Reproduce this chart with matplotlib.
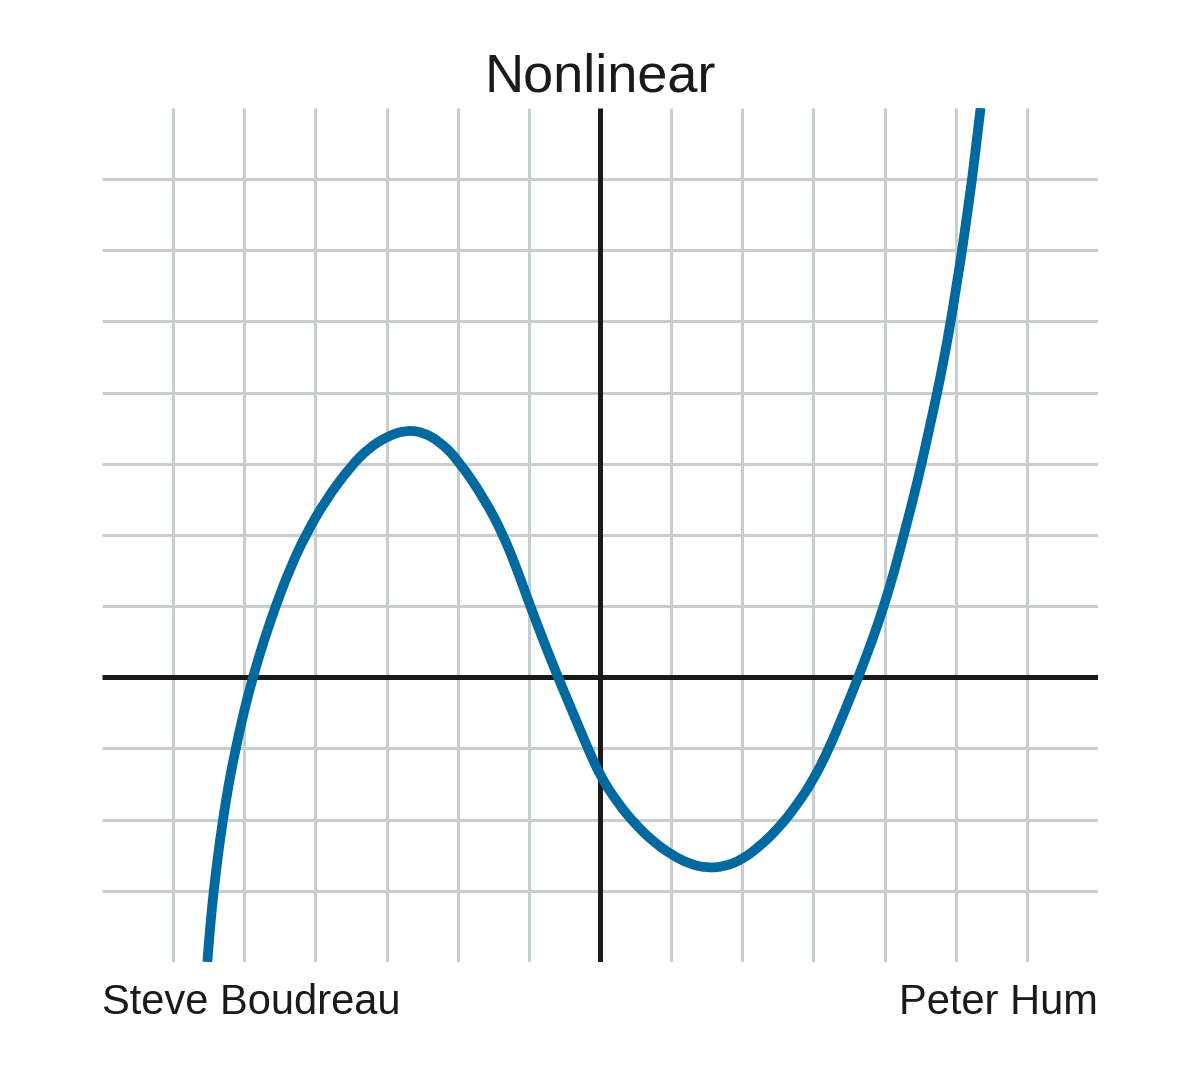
import matplotlib
matplotlib.use('Agg')
import matplotlib.pyplot as plt
from matplotlib.path import Path
from matplotlib.patches import PathPatch

# curve points (grid units), left to right along the curve
curve_x = [-5.52, -5.48, -5.43, -5.37, -5.30, -5.22, -5.12, -5.01, -4.88, -4.73,
           -4.56, -4.37, -4.14, -3.85, -3.50, -3.25, -3.00, -2.75, -2.50, -2.25,
           -2.00, -1.62, -1.36, -1.16, -0.98, -0.79, -0.59, -0.38, -0.17, 0.00,
           0.25, 0.50, 0.75, 1.00, 1.25, 1.50, 1.75, 2.00, 2.25, 2.50,
           2.75, 3.00, 3.22, 3.43, 3.63, 3.82, 3.99, 4.14, 4.27, 4.40,
           4.52, 4.63, 4.74, 4.84, 4.93, 5.01, 5.09, 5.16, 5.23, 5.29, 5.35]
curve_y = [-4.0, -3.5, -3.0, -2.5, -2.0, -1.5, -1.0, -0.5, 0.0, 0.5,
           1.0, 1.5, 2.0, 2.5, 2.97, 3.22, 3.38, 3.47, 3.45, 3.31,
           3.06, 2.5, 2.0, 1.5, 1.0, 0.5, 0.0, -0.5, -1.0, -1.38,
           -1.77, -2.07, -2.31, -2.49, -2.62, -2.68, -2.66, -2.56, -2.37, -2.13,
           -1.82, -1.44, -1.0, -0.5, 0.0, 0.5, 1.0, 1.5, 2.0, 2.5,
           3.0, 3.5, 4.0, 4.5, 5.0, 5.5, 6.0, 6.5, 7.0, 7.5, 8.0]

grid_x = [-6, -5, -4, -3, -2, -1, 1, 2, 3, 4, 5, 6]
grid_y = [-3, -2, -1, 1, 2, 3, 4, 5, 6, 7]

title = 'Nonlinear'
left_name = 'Steve Boudreau'
right_name = 'Peter Hum'

plt.rcParams['font.family'] = ['Liberation Sans', 'DejaVu Sans']


def smooth_path(xs, ys):
    # quadratic b-spline path: read points act as control points
    pts = list(zip(xs, ys))
    verts = [pts[0]]
    codes = [Path.MOVETO]
    n = len(pts)
    for i in range(1, n - 1):
        if i == n - 2:
            end = pts[-1]
        else:
            end = ((pts[i][0] + pts[i + 1][0]) / 2, (pts[i][1] + pts[i + 1][1]) / 2)
        verts += [pts[i], end]
        codes += [Path.CURVE3, Path.CURVE3]
    return Path(verts, codes)


fig = plt.figure(figsize=(12, 10.71), dpi=100)
ax = fig.add_axes([0.085, 0.1018, 0.83, 0.7974])
ax.set_xlim(-7, 7)
ax.set_ylim(-4, 8)
ax.axis('off')

grid_col = '#c8cdcd'
for gx in grid_x:
    ax.plot([gx, gx], [-4, 8], color=grid_col, lw=2.2, zorder=1, solid_capstyle='butt')
for gy in grid_y:
    ax.plot([-7, 7], [gy, gy], color=grid_col, lw=2.2, zorder=1, solid_capstyle='butt')

# axes through the origin
ax.plot([0, 0], [-4, 8], color='#1a1a1a', lw=3.6, zorder=2, solid_capstyle='butt')
ax.plot([-7, 7], [0, 0], color='#1a1a1a', lw=3.6, zorder=2, solid_capstyle='butt')

curve = PathPatch(smooth_path(curve_x, curve_y), fill=False, edgecolor='#0069a0',
                  lw=7, zorder=3, capstyle='butt', joinstyle='round')
ax.add_patch(curve)

fig.text(0.5, 1 - 91 / 1071, title, ha='center', va='baseline', fontsize=39, color='#1a1a1a')
fig.text(0.085, 1 - 1014 / 1071, left_name, ha='left', va='baseline', fontsize=30, color='#1a1a1a')
fig.text(0.915, 1 - 1014 / 1071, right_name, ha='right', va='baseline', fontsize=30, color='#1a1a1a')

fig.savefig('out.png', dpi=100, facecolor='white')
